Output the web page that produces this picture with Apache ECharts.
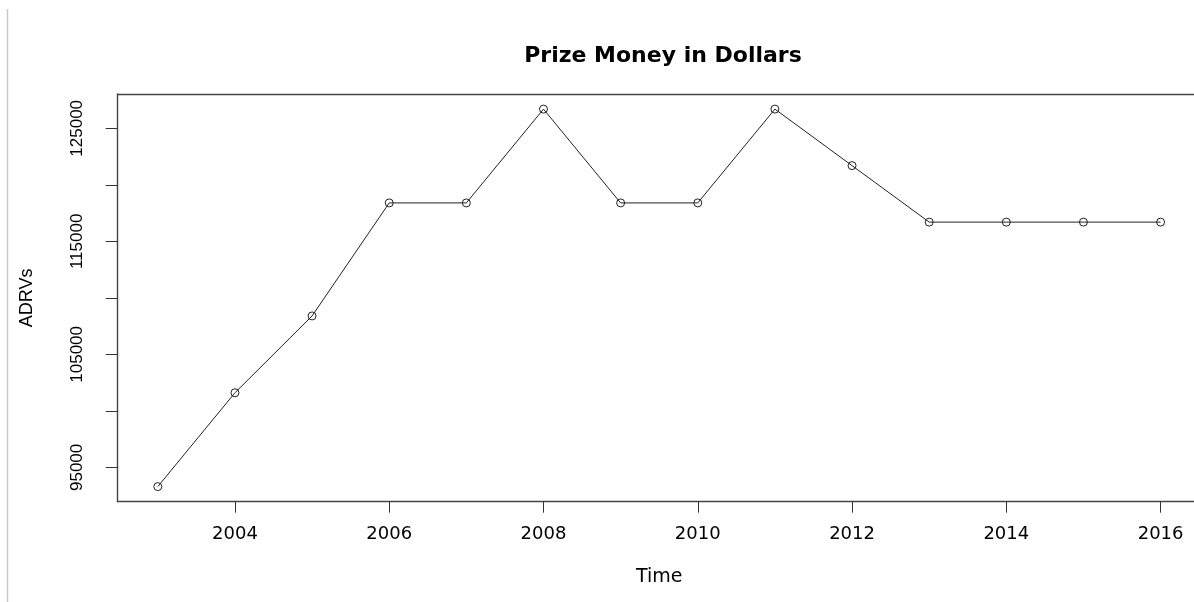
<!DOCTYPE html>
<html>
<head>
<meta charset="utf-8">
<title>Prize Money in Dollars</title>
<script src="https://cdn.jsdelivr.net/npm/echarts@6/dist/echarts.min.js"></script>
<style>
  html, body { margin: 0; padding: 0; background: #ffffff; overflow: hidden; }
  /* the plot box runs slightly past the right edge of the window */
  #chart { width: 1210px; height: 602px; }
</style>
</head>
<body>
<div id="chart"></div>
<script>
// Yearly prize money, one point per year
const years = [2003, 2004, 2005, 2006, 2007, 2008, 2009, 2010, 2011, 2012, 2013, 2014, 2015, 2016];
const prizeMoney = [93300, 101600, 108400, 118400, 118400, 126700, 118400, 118400, 126700, 121700, 116700, 116700, 116700, 116700];

// Axis ticks and the subset that carries labels
const xTickValues = [2004, 2006, 2008, 2010, 2012, 2014, 2016];
const yTickValues = [95000, 100000, 105000, 110000, 115000, 120000, 125000];
const yLabelValues = [95000, 105000, 115000, 125000];

// Axis ranges padded by 4% on each side, like a base-graphics plot
function paddedRange(values) {
  const lo = Math.min(...values), hi = Math.max(...values);
  const pad = (hi - lo) * 0.04;
  return [lo - pad, hi + pad];
}
const [xMin, xMax] = paddedRange(years);
const [yMin, yMax] = paddedRange(prizeMoney);

const points = years.map((y, i) => [y, prizeMoney[i]]);
const plain = v => String(Math.round(v));
const boxLine = { show: true, lineStyle: { color: '#444', width: 1.4 } };

const chart = echarts.init(document.getElementById('chart'), null, { renderer: 'canvas' });

chart.setOption({
  backgroundColor: '#ffffff',
  animation: false,
  title: {
    text: 'Prize Money in Dollars',
    left: 658,
    top: 40,
    textAlign: 'center',
    textStyle: { fontFamily: 'DejaVu Sans', fontWeight: 'bold', fontSize: 22, color: '#000' }
  },
  grid: {
    left: 117.7,
    top: 94,
    width: 1083,
    height: 407.7,
    show: false
  },
  xAxis: [{
    type: 'value',
    position: 'bottom',
    min: xMin,
    max: xMax,
    name: 'Time',
    nameLocation: 'middle',
    nameGap: 66,
    nameTextStyle: { fontFamily: 'DejaVu Sans', fontSize: 19, color: '#000' },
    axisLine: boxLine,
    splitLine: { show: false },
    axisTick: { show: true, inside: false, length: 11, customValues: xTickValues, lineStyle: { color: '#333', width: 1 } },
    axisLabel: {
      customValues: xTickValues,
      formatter: plain,
      margin: 24,
      fontFamily: 'DejaVu Sans',
      fontSize: 18,
      color: '#000'
    }
  }, {
    // top edge of the plot box
    type: 'value',
    position: 'top',
    min: xMin,
    max: xMax,
    axisLine: boxLine,
    axisTick: { show: false },
    axisLabel: { show: false },
    splitLine: { show: false }
  }],
  yAxis: {
    type: 'value',
    min: yMin,
    max: yMax,
    name: 'ADRVs',
    nameLocation: 'middle',
    nameGap: 82,
    nameRotate: 90,
    nameTextStyle: { fontFamily: 'Liberation Sans', fontSize: 18, color: '#000' },
    axisLine: boxLine,
    splitLine: { show: false },
    axisTick: { show: true, inside: false, length: 12, customValues: yTickValues, lineStyle: { color: '#333', width: 1 } },
    axisLabel: {
      customValues: yLabelValues,
      formatter: plain,
      rotate: 90,
      margin: 32,
      fontFamily: 'Liberation Sans',
      fontSize: 17,
      color: '#000'
    }
  },
  series: [{
    type: 'line',
    xAxisIndex: 0,
    data: points,
    symbol: 'circle',
    symbolSize: 8,
    showSymbol: true,
    lineStyle: { color: '#222', width: 1 },
    itemStyle: { color: 'rgba(0,0,0,0)', borderColor: '#222', borderWidth: 1 },
    z: 3
  }],
  graphic: [{
    type: 'line',
    shape: { x1: 7.5, y1: 9, x2: 7.5, y2: 602 },
    style: { stroke: '#c8c8c8', lineWidth: 1.5 },
    silent: true
  }]
});
</script>
</body>
</html>
